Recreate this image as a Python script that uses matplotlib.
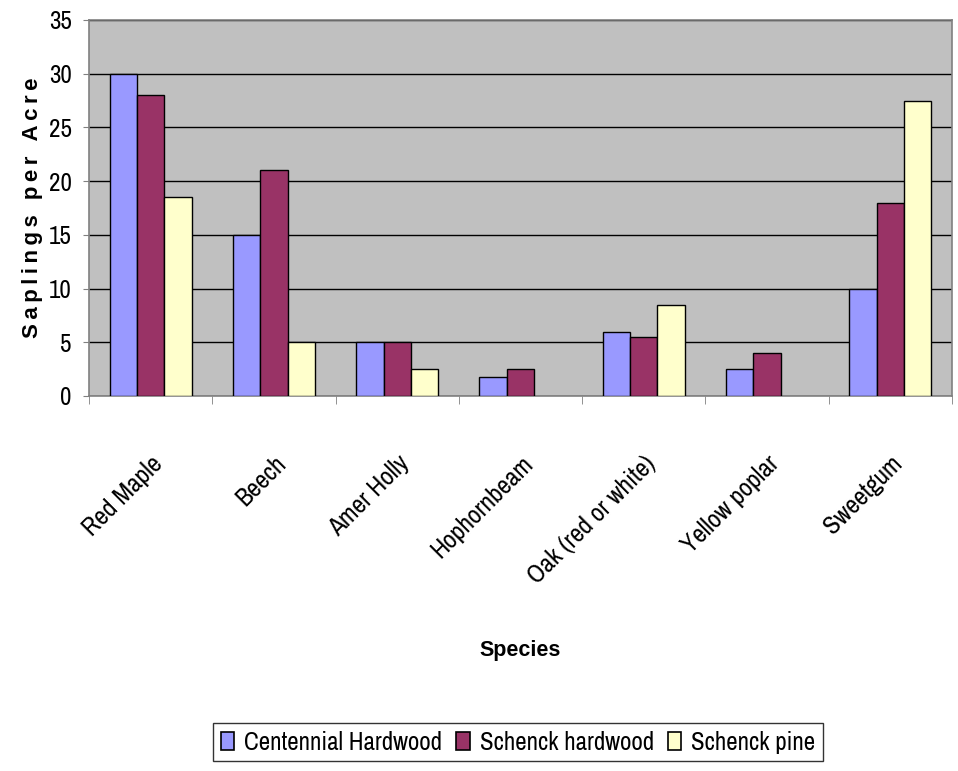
import numpy as np
import matplotlib
matplotlib.use('Agg')
import matplotlib.pyplot as plt
from matplotlib.patches import Patch

species = ['Red Maple', 'Beech', 'Amer Holly', 'Hophornbeam',
           'Oak (red or white)', 'Yellow poplar', 'Sweetgum']
centennial_hw = [30, 15, 5, 1.8, 6, 2.5, 10]
schenck_hw = [28, 21, 5, 2.5, 5.5, 4, 18]
schenck_pine = [18.5, 5, 2.5, 0, 8.5, 0, 27.5]
series_names = ['Centennial Hardwood', 'Schenck hardwood', 'Schenck pine']
colors = ['#9999FF', '#993366', '#FFFFCC']

narrow = ['Archivo Narrow', 'Liberation Sans', 'DejaVu Sans']
bold = ['Liberation Sans', 'DejaVu Sans']
plt.rcParams['font.family'] = narrow

fig = plt.figure(figsize=(9.58, 7.71), dpi=100)
ax = fig.add_axes([89/958, 1 - 396/771, (952 - 89)/958, (396 - 20)/771])

x = np.arange(len(species))
w = 0.222
for i, (vals, c) in enumerate(zip([centennial_hw, schenck_hw, schenck_pine], colors)):
    lws = [1 if v > 0 else 0 for v in vals]
    ax.bar(x + (i - 1) * w, vals, w, color=c, edgecolor='black', linewidth=lws, zorder=3)

ax.set_facecolor('#C0C0C0')
ax.set_xlim(-0.5, len(species) - 0.5)
ax.set_ylim(0, 35)
ax.set_yticks(np.arange(0, 36, 5))
ax.yaxis.grid(True, color='black', linewidth=1, zorder=1)
ax.set_axisbelow(True)
for s in ax.spines.values():
    s.set_color('#808080')
    s.set_linewidth(1.2)

ax.tick_params(axis='y', labelsize=18, length=4.5, pad=8, color='#808080')
ax.set_xticks(x)
ax.set_xticklabels(species, fontsize=18.5, rotation=45, ha='right', va='top',
                   rotation_mode='anchor')
ax.tick_params(axis='x', length=0, pad=40)
ax.set_xticks(np.arange(-0.5, len(species)), minor=True)
ax.tick_params(axis='x', which='minor', length=6, color='#808080')

# letter-spaced axis title like the original
ylab = '\u2009'.join('Saplings per Acre')
ax.set_ylabel(ylab, fontsize=16, fontweight='bold', family=bold)
ax.yaxis.set_label_coords(-0.066, 0.5)
ax.yaxis.label.set_va('center')
ax.set_xlabel('Species', fontsize=15.5, fontweight='bold', family=bold)
ax.xaxis.set_label_coords(0.5, -0.678)
ax.xaxis.label.set_va('center')

handles = [Patch(facecolor=c, edgecolor='black', linewidth=1.2) for c in colors]
leg = fig.legend(handles, series_names, loc='upper center',
                 bbox_to_anchor=(518/958, 1 - 723/771), ncol=3, fontsize=18,
                 frameon=True, fancybox=False, handlelength=0.55, handleheight=0.75,
                 handletextpad=0.4, columnspacing=0.55, borderpad=0.3,
                 borderaxespad=0)
leg.get_frame().set_edgecolor('black')
leg.get_frame().set_linewidth(1)

fig.savefig('out.png', dpi=100)
